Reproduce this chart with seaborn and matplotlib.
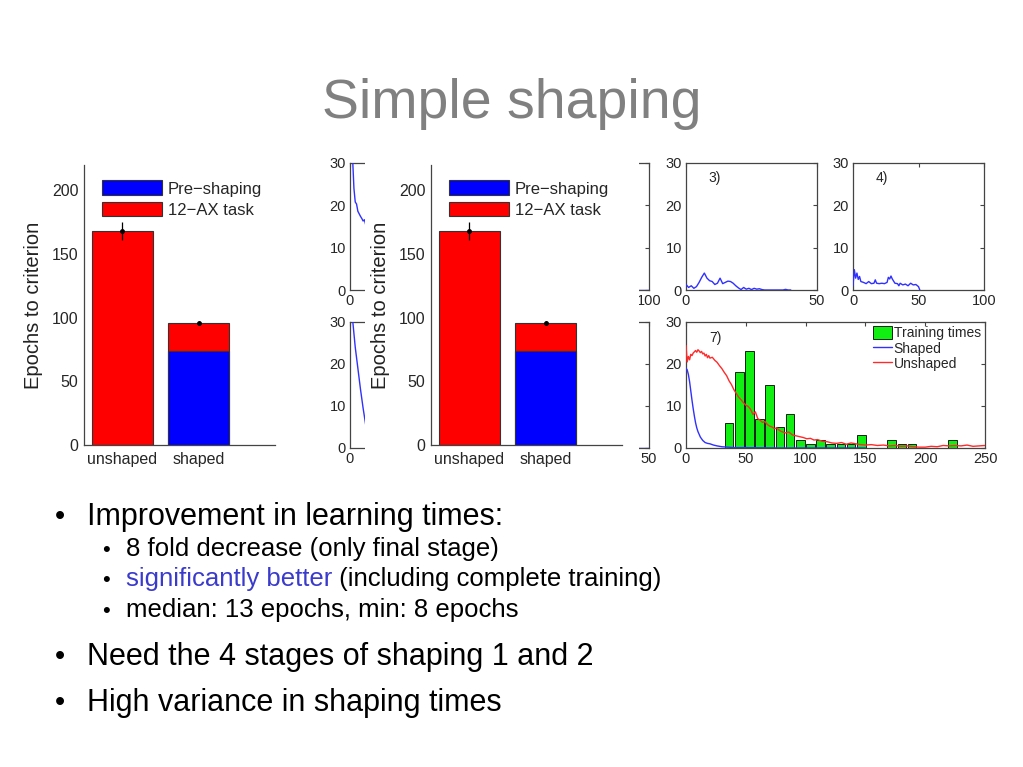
import matplotlib.pyplot as plt
from matplotlib.patches import Patch, Rectangle
from matplotlib.lines import Line2D
import seaborn as sns

# --- DATA ---
conditions = ['unshaped', 'shaped']
preshaping_epochs = [0, 74]
task_epochs = [168, 22]
total_err = [7, 1.5]
totals = [p + t for p, t in zip(preshaping_epochs, task_epochs)]

# small panels (stage curves)
p1_x = [0, 1, 2, 3, 4, 5, 6, 7, 8, 9, 10, 11, 12, 13, 14]
p1_y = [40, 36, 31, 24, 20.8, 20.3, 18.6, 18.0, 17.4, 16.9, 16.3, 16.6, 15.4, 15.0, 14.6]
p2_x = [90, 95, 100]
p2_y = [0, 0, 0]
p3_x = list(range(0, 41))
p3_y = [1.3, 0.6, 1.0, 0.4, 0.8, 1.8, 3.0, 4.0, 2.8, 2.2, 2.0, 1.3, 1.6, 2.8, 1.5, 1.8, 2.1,
        2.0, 1.6, 1.0, 0.5, 0.1, 0.6, 0.2, 0.4, 0.1, 0.4, 0.2, 0.3, 0.1, 0.0, 0.0, 0.0, 0.0,
        0.0, 0.0, 0.0, 0.0, 0.15, 0.0, 0.0]
p4_x = [0, 1, 2, 3, 4, 5, 6, 8, 10, 12, 14, 16, 17, 18, 20, 22, 24, 26, 27, 28, 29, 30, 32,
        34, 35, 36, 38, 40, 42, 44, 46, 48, 50, 51]
p4_y = [1.0, 4.8, 2.8, 4.0, 2.5, 3.2, 2.0, 1.8, 1.5, 2.0, 1.5, 1.6, 2.4, 1.6, 1.5, 1.6, 1.5,
        1.8, 3.0, 2.6, 3.3, 2.6, 1.6, 1.5, 1.0, 1.6, 1.2, 1.4, 1.0, 1.6, 1.2, 1.3, 0.8, 0.0]
p5_x = [0, 2, 4, 6, 8, 10, 12, 14, 18, 25]
p5_y = [34, 30.5, 24, 19, 14, 9.5, 5.5, 2.5, 1.0, 0.5]
p6_x = [45, 48, 50]
p6_y = [0, 0, 0]

# panel 7: histogram of training times + mean curves
hist_centers = [36, 44.5, 53, 61.5, 70, 78.5, 87, 95.5, 104, 112.5, 121, 129.5, 138, 146.5,
                172, 180.5, 189, 223]
hist_counts = [6, 18, 23, 7, 15, 5, 8, 2, 1, 2, 1, 1, 1, 3, 2, 1, 1, 2]
hist_binwidth = 8.5
hist_range = (31.75, 227.25)

shaped_x = [0, 1, 2, 3, 4, 5, 6, 7, 8, 9, 10, 12, 14, 16, 18, 20, 23, 26, 30, 35, 40, 50, 60,
            80, 100, 150]
shaped_y = [19.0, 18.6, 17.5, 15.8, 13.6, 11.4, 9.4, 7.6, 6.0, 4.8, 3.9, 2.6, 1.8, 1.3, 1.1,
            1.0, 0.7, 0.5, 0.3, 0.2, 0.1, 0.1, 0.05, 0.0, 0.0, 0.0]
unshaped_x = [0, 1, 2, 3, 4, 5, 6, 7, 8, 9, 10, 11, 12, 13, 14, 15, 16, 17, 18, 19, 20, 22, 24,
              26, 28, 30, 32, 34, 36, 38, 40, 42, 44, 46, 48, 50, 52, 54, 56, 58, 60, 62, 64,
              66, 68, 70, 72, 74, 76, 78, 80, 83, 86, 89, 92, 95, 98, 101, 104, 107, 110, 114,
              118, 122, 126, 130, 134, 138, 142, 146, 150, 155, 160, 165, 170, 175, 180, 185,
              190, 195, 200, 205, 210, 215, 220, 225, 230, 235, 240, 245, 250]
unshaped_y = [24.4, 20.5, 21.8, 21.0, 22.3, 22.0, 22.6, 22.9, 23.2, 22.8, 23.4, 23.1, 22.7, 23.0,
              22.4, 22.6, 21.9, 22.3, 21.5, 22.0, 21.4, 21.6, 20.9, 20.4, 19.6, 18.9, 18.0, 17.2,
              16.0, 15.1, 13.9, 13.0, 12.1, 11.5, 10.8, 10.2, 9.9, 9.2, 8.0, 8.6, 7.0, 6.6, 6.1,
              6.3, 5.6, 5.2, 5.0, 4.6, 4.8, 4.2, 3.9, 3.6, 3.8, 3.1, 2.9, 2.7, 2.5, 2.2, 2.3, 1.9,
              2.0, 1.6, 1.5, 1.2, 1.1, 1.3, 0.9, 1.2, 1.0, 0.8, 0.7, 0.8, 0.6, 0.7, 0.5, 0.6, 0.4,
              0.5, 0.3, 0.2, 0.2, 0.4, 0.3, 0.6, 0.5, 0.6, 0.5, 0.7, 0.4, 0.5, 0.6]

title_text = 'Simple shaping'
bullets_main = ['Improvement in learning times:', 'Need the 4 stages of shaping 1 and 2',
                'High variance in shaping times']
bullets_sub = ['8 fold decrease (only final stage)', 'significantly better',
               ' (including complete training)', 'median: 13 epochs, min: 8 epochs']

# --- STYLE ---
RED = '#ff0000'
BLUE = '#0000ff'
LINE_BLUE = '#3030ff'
LINE_RED = '#ff2a2a'
GREEN = '#11ee11'
SPINE = '#444444'
W, H = 1023, 767

sns.set_style('white')
plt.rcParams['font.family'] = ['Liberation Sans', 'DejaVu Sans']

fig = plt.figure(figsize=(W / 100, H / 100), dpi=100)


def px_axes(x0, y0, x1, y1, z=1):
    # axes placed by pixel box (top-left origin)
    return fig.add_axes([x0 / W, 1 - y1 / H, (x1 - x0) / W, (y1 - y0) / H], zorder=z)


def bar_chart(ax):
    sns.barplot(x=conditions, y=totals, color=RED, saturation=1, width=0.8, errorbar=None,
                edgecolor='#333333', linewidth=0.8, ax=ax)
    sns.barplot(x=conditions, y=preshaping_epochs, color=BLUE, saturation=1, width=0.8,
                errorbar=None, edgecolor='#333333', linewidth=0.8, ax=ax)
    ax.errorbar(range(len(conditions)), totals, yerr=total_err, fmt='o', ms=2.5,
                color='black', elinewidth=0.9, capsize=0, zorder=5)
    ax.set_xlim(-0.5, 2.0)
    ax.set_ylim(0, 220)
    ax.set_yticks([0, 50, 100, 150, 200])
    ax.set_ylabel('Epochs to criterion', fontsize=14.5, labelpad=6, color='#222222')
    ax.set_xlabel('')
    sns.despine(ax=ax)
    for s in ['left', 'bottom']:
        ax.spines[s].set_color(SPINE)
        ax.spines[s].set_linewidth(0.9)
    ax.tick_params(axis='y', direction='in', length=4, labelsize=11.5, color=SPINE, pad=4)
    ax.tick_params(axis='x', length=0, labelsize=11.5, pad=5)
    handles = [Patch(facecolor=BLUE, edgecolor='#333333', linewidth=0.8, label='Pre\u2212shaping'),
               Patch(facecolor=RED, edgecolor='#333333', linewidth=0.8, label='12\u2212AX task')]
    ax.legend(handles=handles, loc='upper left', bbox_to_anchor=(0.094, 0.945), frameon=False,
              fontsize=12, handlelength=3.6, handleheight=1.0, handletextpad=0.35,
              labelspacing=0.3, borderpad=0, borderaxespad=0)


def small_panel(ax, x, y, xmax, xticks, xlabels=None, ylabels=True, tag=None):
    if x is not None:
        sns.lineplot(x=x, y=y, color=LINE_BLUE, linewidth=1, ax=ax, zorder=3)
    ax.set_xlim(0, xmax)
    ax.set_ylim(0, 30)
    ax.set_yticks([0, 10, 20, 30])
    ax.set_xticks(xticks)
    if xlabels is not None:
        ax.set_xticklabels(xlabels)
    if not ylabels:
        ax.set_yticklabels([])
    ax.set_xlabel('')
    ax.set_ylabel('')
    ax.tick_params(direction='in', length=3, top=True, right=True, labelsize=10.5, pad=3,
                   color=SPINE)
    for s in ax.spines.values():
        s.set_color(SPINE)
        s.set_linewidth(0.9)
    if tag:
        ax.text(0.22, 0.88, tag, transform=ax.transAxes, fontsize=10, ha='center', va='center')


# --- small panel grid (behind) ---
cols = [350, 518, 686, 853]
pw = 131
top_row = (163, 290)
bot_row = (322, 448)

# columns 1 and 2 are mostly hidden under the second bar chart
small_panel(px_axes(cols[0], top_row[0], cols[0] + pw, top_row[1]), p1_x, p1_y, 100,
            [0, 50, 100], ['0', '', ''])
small_panel(px_axes(cols[1], top_row[0], cols[1] + pw, top_row[1]), p2_x, p2_y, 100,
            [0, 50, 100], ['', '', '100'], ylabels=False)
small_panel(px_axes(cols[2], top_row[0], cols[2] + pw, top_row[1]), p3_x, p3_y, 50,
            [0, 50], tag='3)')
small_panel(px_axes(cols[3], top_row[0], cols[3] + pw, top_row[1]), p4_x, p4_y, 100,
            [0, 50, 100], tag='4)')
small_panel(px_axes(cols[0], bot_row[0], cols[0] + pw, bot_row[1]), p5_x, p5_y, 100,
            [0, 50, 100], ['0', '', ''])
small_panel(px_axes(cols[1], bot_row[0], cols[1] + pw, bot_row[1]), p6_x, p6_y, 50,
            [0, 25, 50], ['', '', '50'], ylabels=False)

ax7 = px_axes(cols[2], bot_row[0], 985, bot_row[1])
sns.histplot(x=hist_centers, weights=hist_counts, binwidth=hist_binwidth, binrange=hist_range,
             shrink=0.86, color=GREEN, edgecolor='black', linewidth=0.6, alpha=1, ax=ax7)
sns.lineplot(x=shaped_x, y=shaped_y, color=LINE_BLUE, linewidth=1, ax=ax7, zorder=3)
sns.lineplot(x=unshaped_x, y=unshaped_y, color=LINE_RED, linewidth=1, ax=ax7, zorder=3)
small_panel(ax7, None, None, 250, [0, 50, 100, 150, 200, 250])
ax7.text(0.097, 0.87, '7)', transform=ax7.transAxes, fontsize=10, ha='center', va='center')
leg_handles = [Patch(facecolor=GREEN, edgecolor='black', linewidth=0.6, label='Training times'),
               Line2D([], [], color=LINE_BLUE, linewidth=1, label='Shaped'),
               Line2D([], [], color=LINE_RED, linewidth=1, label='Unshaped')]
ax7.legend(handles=leg_handles, loc='upper right', frameon=False, fontsize=10,
           handlelength=1.4, handleheight=1.0, handletextpad=0.1, labelspacing=0.1,
           borderpad=0.2, borderaxespad=0.1)

# pasted-over areas: second chart sits on top of the grid, grid image cut at the bottom
fig.add_artist(Rectangle((365 / W, 1 - 466 / H), (639 - 365) / W, (466 - 140) / H,
                         transform=fig.transFigure, facecolor='white', edgecolor='none', zorder=5))
fig.add_artist(Rectangle((320 / W, 1 - 485 / H), (1000 - 320) / W, (485 - 466) / H,
                         transform=fig.transFigure, facecolor='white', edgecolor='none', zorder=5))

# --- bar charts ---
bar_chart(px_axes(84, 165, 275, 445, z=6))
bar_chart(px_axes(431, 165, 622, 445, z=6))

# --- slide text ---
fig.text(512 / W, 1 - 118 / H, title_text, fontsize=40, color='#808080', ha='center',
         va='baseline')

main_y = [525, 665, 711]
for txt, yb in zip(bullets_main, main_y):
    fig.text(55 / W, 1 - yb / H, '\u2022', fontsize=21, va='baseline', ha='left', color='black')
    fig.text(87 / W, 1 - yb / H, txt, fontsize=22, va='baseline', ha='left', color='black')

sub_y = [556, 586, 617]
for yb in sub_y:
    fig.text(102 / W, 1 - yb / H, '\u2022', fontsize=16, va='baseline', ha='left', color='black')
fig.text(126 / W, 1 - sub_y[0] / H, bullets_sub[0], fontsize=18.5, va='baseline', ha='left',
         color='black')
t_blue = fig.text(126 / W, 1 - sub_y[1] / H, bullets_sub[1], fontsize=18.5, va='baseline',
                  ha='left', color='#3a3acc')
txt_ax = fig.add_axes([0, 0, 1, 1], zorder=10)
txt_ax.set_axis_off()
txt_ax.annotate(bullets_sub[2], xy=(1, 0), xycoords=t_blue, fontsize=18.5, va='bottom',
                ha='left', color='black')
fig.text(126 / W, 1 - sub_y[2] / H, bullets_sub[3], fontsize=18.5, va='baseline', ha='left',
         color='black')

fig.savefig('out.png', dpi=100)
